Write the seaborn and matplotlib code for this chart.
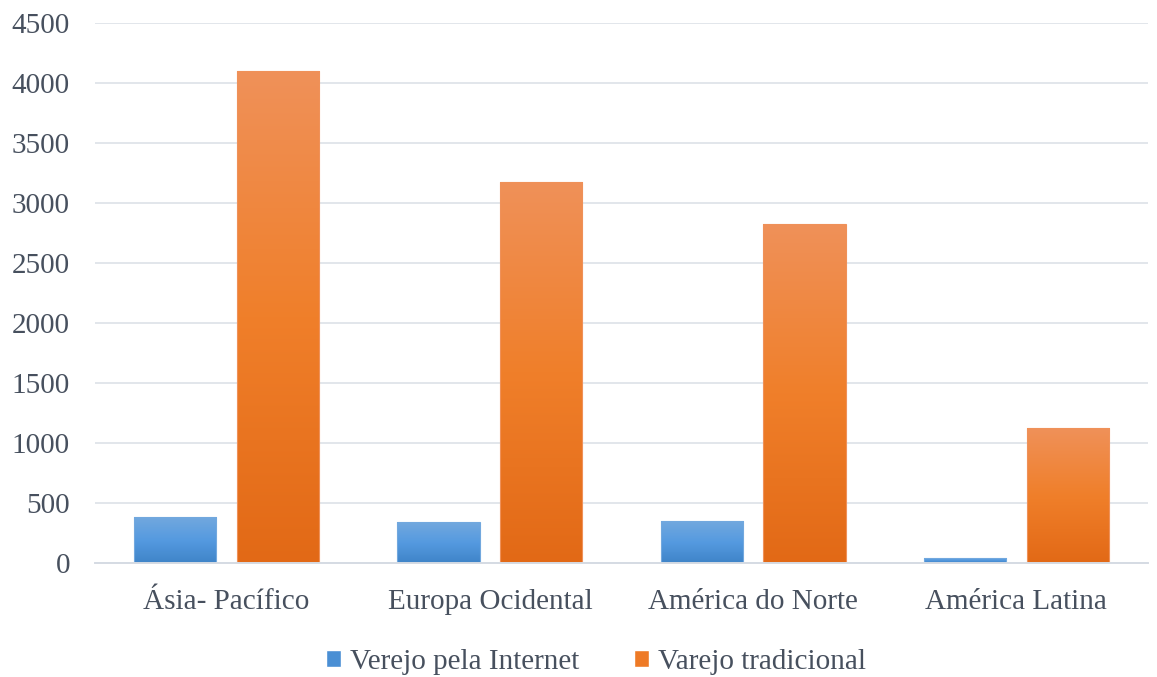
import numpy as np
import pandas as pd
import matplotlib
matplotlib.use("Agg")
import matplotlib.pyplot as plt
import seaborn as sns
from matplotlib.colors import LinearSegmentedColormap

# Vendas por região (valores em unidades monetárias)
regioes = ["Ásia- Pacífico", "Europa Ocidental", "América do Norte", "América Latina"]
varejo_internet = [380, 340, 350, 45]
varejo_tradicional = [4100, 3175, 2825, 1125]
series = ["Verejo pela Internet", "Varejo tradicional"]
y_ticks = [0, 500, 1000, 1500, 2000, 2500, 3000, 3500, 4000, 4500]

df = pd.DataFrame({
    "regiao": regioes * 2,
    "valor": varejo_internet + varejo_tradicional,
    "serie": [series[0]] * len(regioes) + [series[1]] * len(regioes),
})

sns.set_theme(style="white")
plt.rcParams["font.family"] = ["Liberation Serif", "DejaVu Serif"]
text_color = "#47505e"
grid_color = "#dde2e8"
font_size = 21

base_colors = {series[0]: "#4a8fd4", series[1]: "#ee7a26"}
gradients = {
    series[0]: ["#72a8de", "#559ae0", "#3f84c8"],
    series[1]: ["#ef9159", "#f07f2a", "#e26916"],
}

fig = plt.figure(figsize=(11.57, 6.77), dpi=100)
ax = fig.add_axes([95 / 1157, 114 / 677, (1148 - 95) / 1157, (563 - 23) / 677])

sns.barplot(data=df, x="regiao", y="valor", hue="serie", order=regioes,
            hue_order=series, palette=base_colors, width=0.78, gap=0.2,
            saturation=1, ax=ax, legend=True)

ax.set_ylim(0, 4500)
ax.set_yticks(y_ticks)
ax.set_yticklabels([str(t) for t in y_ticks])
ax.set_xlim(-0.5, len(regioes) - 0.5)

# Vertical gradient fill on each bar, clipped to the bar shape
for container, name in zip(ax.containers, series):
    cmap = LinearSegmentedColormap.from_list(name, gradients[name][::-1])
    for patch in container.patches:
        x0, y0 = patch.get_x(), patch.get_y()
        w, h = patch.get_width(), patch.get_height()
        grad = np.linspace(0, 1, 256).reshape(-1, 1)
        img = ax.imshow(grad, extent=[x0, x0 + w, y0, y0 + h], origin="lower",
                        cmap=cmap, aspect="auto", zorder=patch.get_zorder(),
                        interpolation="bicubic")
        img.set_clip_path(patch)
        patch.set_facecolor("none")
        patch.set_edgecolor(gradients[name][0])
        patch.set_linewidth(0.8)
        patch.set_zorder(patch.get_zorder() + 0.1)

ax.set_xlim(-0.5, len(regioes) - 0.5)
ax.set_ylim(0, 4500)

ax.yaxis.grid(True, color=grid_color, linewidth=1.2)
ax.set_axisbelow(True)
for side in ["top", "right", "left"]:
    ax.spines[side].set_visible(False)
ax.spines["bottom"].set_color("#d5dbe3")
ax.spines["bottom"].set_linewidth(1.4)

ax.set_xlabel("")
ax.set_ylabel("")
ax.tick_params(axis="y", length=0, pad=18, labelsize=font_size, labelcolor=text_color)
ax.tick_params(axis="x", length=0, pad=19, labelsize=font_size, labelcolor=text_color)

handles, labels = ax.get_legend_handles_labels()
ax.get_legend().remove()
fig.legend(handles, labels, loc="center", bbox_to_anchor=(596 / 1157, 1 - 662 / 677),
           ncol=2, frameon=False, fontsize=font_size, labelcolor=text_color,
           handlelength=0.5, handleheight=0.5, handletextpad=0.3,
           columnspacing=1.9, borderpad=0.1)

fig.savefig("out.png", dpi=100)
